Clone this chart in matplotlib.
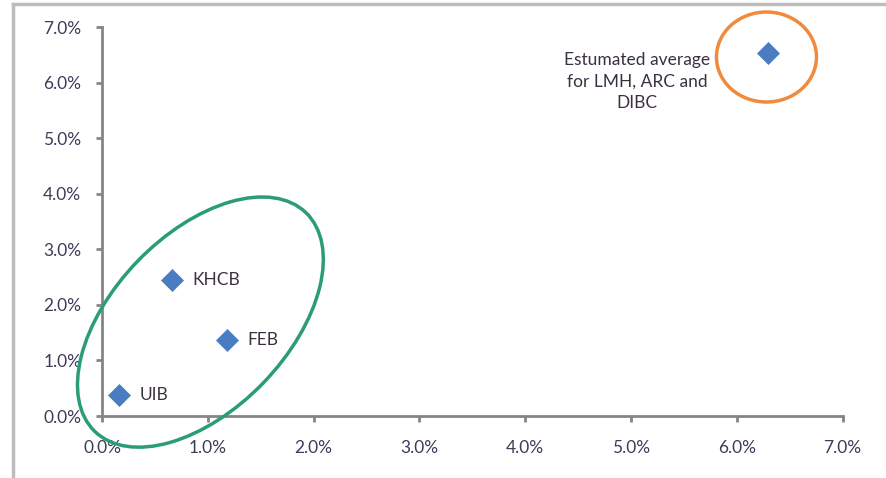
import numpy as np
import matplotlib.pyplot as plt
from matplotlib.patches import Ellipse
from matplotlib.ticker import FuncFormatter
from matplotlib.lines import Line2D
from matplotlib.transforms import IdentityTransform

plt.rcParams['font.family'] = ['Lato', 'DejaVu Sans']

# data (percent)
banks = ['UIB', 'KHCB', 'FEB']
bank_x = [0.16, 0.66, 1.18]
bank_y = [0.38, 2.45, 1.37]
avg_x = [6.29]
avg_y = [6.53]
avg_label = 'Estumated average\nfor LMH, ARC and\nDIBC'

ticks = np.arange(0, 8, 1)

fig = plt.figure(figsize=(8.87, 4.78), dpi=100)
ax = fig.add_axes([0.115, 0.1297, 0.835, 0.8138])

blue = '#4a7cc2'
ax.plot(bank_x, bank_y, 'D', color=blue, ms=12.5, mec='white', mew=0.5, ls='none')
ax.plot(avg_x, avg_y, 'D', color=blue, ms=12.5, mec='white', mew=0.5, ls='none')

for name, x, y in zip(banks, bank_x, bank_y):
    ax.annotate(name, (x, y), xytext=(15, 0), textcoords='offset points',
                va='center', ha='left', fontsize=12.5, color='#3a3040')

ax.annotate(avg_label, (avg_x[0], avg_y[0]), xytext=(-94, 1), textcoords='offset points',
            va='top', ha='center', fontsize=12.5, color='#3a3040', linespacing=1.45)

ax.set_xlim(0, 7)
ax.set_ylim(0, 7)
ax.set_xticks(ticks)
ax.set_yticks(ticks)
pct = FuncFormatter(lambda v, p: f'{v:.1f}%')
ax.xaxis.set_major_formatter(pct)
ax.yaxis.set_major_formatter(pct)

for s in ['top', 'right']:
    ax.spines[s].set_visible(False)
for s in ['left', 'bottom']:
    ax.spines[s].set_color('#858585')
    ax.spines[s].set_linewidth(2)
ax.tick_params(axis='both', direction='out', length=4, width=2, color='#858585',
               labelsize=12.5, labelcolor='#3c3c5c')
ax.tick_params(axis='x', pad=13)
ax.tick_params(axis='y', pad=11)

# highlight ellipses, drawn in pixel space around data centres
fig.canvas.draw()
g_cx, g_cy = ax.transData.transform((0.93, 1.69))
fig.add_artist(Ellipse((g_cx, g_cy), 304, 175, angle=46, fill=False,
                       ec='#2a9d78', lw=2.5, transform=IdentityTransform()))
o_cx, o_cy = ax.transData.transform((6.28, 6.46))
fig.add_artist(Ellipse((o_cx, o_cy), 100, 90, angle=0, fill=False,
                       ec='#f08a3c', lw=2.5, transform=IdentityTransform()))

# outer frame of the clipped image
fig.add_artist(Line2D([13 / 887, 13 / 887], [0, 1 - 4 / 478], transform=fig.transFigure,
                      color='#bdbdbd', lw=2.5))
fig.add_artist(Line2D([13 / 887, 1], [1 - 4 / 478, 1 - 4 / 478], transform=fig.transFigure,
                      color='#bdbdbd', lw=2.5))

fig.savefig('out.png', dpi=100)
